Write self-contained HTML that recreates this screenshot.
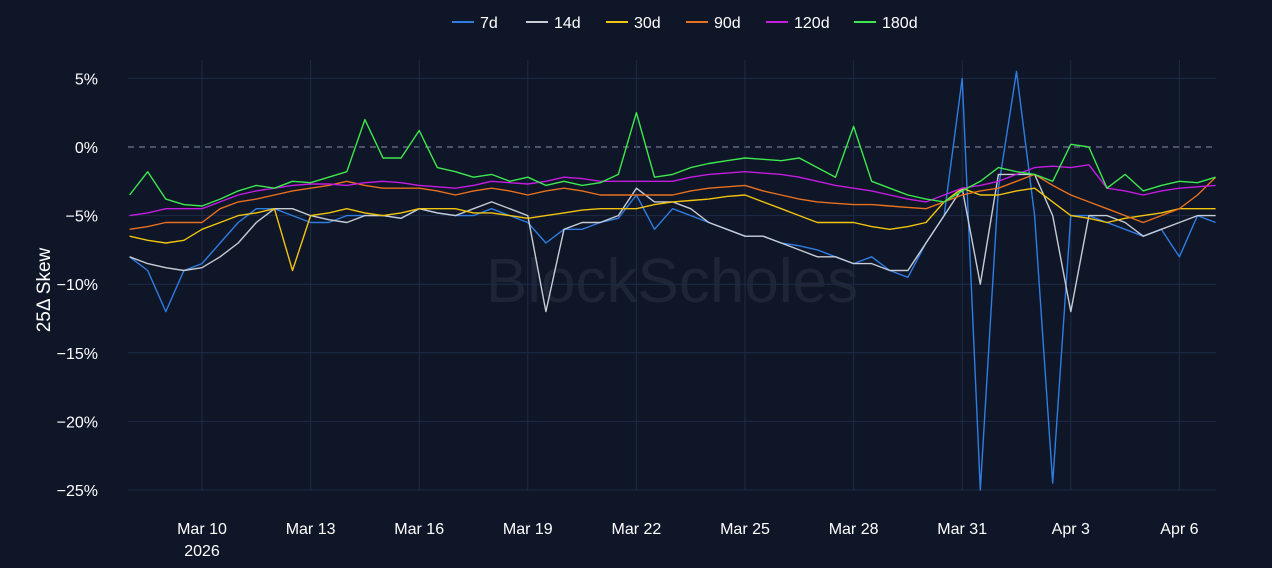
<!DOCTYPE html>
<html><head><meta charset="utf-8"><style>
html,body{margin:0;padding:0;background:#0e1628;}
svg{display:block;font-family:"Liberation Sans",sans-serif;}
</style></head><body>
<svg id="chart" width="1272" height="568" viewBox="0 0 1272 568">
<rect x="0" y="0" width="1272" height="568" fill="#0e1628"/>
<text x="672" y="302" text-anchor="middle" font-size="62" fill="#1d2537">BlockScholes</text>
<g id="grid"></g><g id="series"></g><g id="axes"></g><g id="legend"></g>
<text transform="translate(50,290) rotate(-90)" text-anchor="middle" font-size="19" fill="#ffffff">25Δ Skew</text>
</svg>
<script>
const seriesNames = ["7d","14d","30d","90d","120d","180d"];
const seriesColors = ["#2f7de1","#c8ccd4","#f2c40f","#e8701f","#c41ce0","#3ee84e"];
const yTicks = [5,0,-5,-10,-15,-20,-25];
const xTickDays = [2,5,8,11,14,17,20,23,26,29];
const xTickLabels = ["Mar 10","Mar 13","Mar 16","Mar 19","Mar 22","Mar 25","Mar 28","Mar 31","Apr 3","Apr 6"];
// days since Mar 8, step 0.5
const days = [0,0.5,1,1.5,2,2.5,3,3.5,4,4.5,5,5.5,6,6.5,7,7.5,8,8.5,9,9.5,10,10.5,11,11.5,12,12.5,13,13.5,14,14.5,15,15.5,16,16.5,17,17.5,18,18.5,19,19.5,20,20.5,21,21.5,22,22.5,23,23.5,24,24.5,25,25.5,26,26.5,27,27.5,28,28.5,29,29.5,30];
const s7d  = [-8,-9,-12,-9,-8.5,-7,-5.5,-4.5,-4.5,-5,-5.5,-5.5,-5,-5,-5,-5.2,-4.5,-4.8,-5,-5,-4.5,-5,-5.5,-7,-6,-6,-5.5,-5.2,-3.5,-6,-4.5,-5,-5.5,-6,-6.5,-6.5,-7,-7.2,-7.5,-8,-8.5,-8,-9,-9.5,-7,-5,5,-25,-3,5.5,-5,-24.5,-5,-5,-5.5,-6,-6.5,-6,-8,-5,-5.5];
const s14d = [-8,-8.5,-8.8,-9,-8.8,-8,-7,-5.5,-4.5,-4.5,-5,-5.3,-5.5,-5,-5,-5.2,-4.5,-4.8,-5,-4.5,-4,-4.5,-5,-12,-6,-5.5,-5.5,-5,-3,-4,-4,-4.5,-5.5,-6,-6.5,-6.5,-7,-7.5,-8,-8,-8.5,-8.5,-9,-9,-7,-5,-3,-10,-2,-2,-2,-5,-12,-5,-5,-5.5,-6.5,-6,-5.5,-5,-5];
const s30d = [-6.5,-6.8,-7,-6.8,-6,-5.5,-5,-4.8,-4.5,-9,-5,-4.8,-4.5,-4.8,-5,-4.8,-4.5,-4.5,-4.5,-4.8,-4.8,-5,-5.2,-5,-4.8,-4.6,-4.5,-4.5,-4.5,-4.2,-4,-3.9,-3.8,-3.6,-3.5,-4,-4.5,-5,-5.5,-5.5,-5.5,-5.8,-6,-5.8,-5.5,-4,-3,-3.5,-3.5,-3.2,-3,-4,-5,-5.2,-5.5,-5.2,-5,-4.8,-4.5,-4.5,-4.5];
const s90d = [-6,-5.8,-5.5,-5.5,-5.5,-4.5,-4,-3.8,-3.5,-3.2,-3,-2.8,-2.5,-2.8,-3,-3,-3,-3.2,-3.5,-3.2,-3,-3.2,-3.5,-3.2,-3,-3.2,-3.5,-3.5,-3.5,-3.5,-3.5,-3.2,-3,-2.9,-2.8,-3.2,-3.5,-3.8,-4,-4.1,-4.2,-4.2,-4.3,-4.4,-4.5,-4,-3.5,-3.2,-3,-2.5,-2,-2.8,-3.5,-4,-4.5,-5,-5.5,-5,-4.5,-3.5,-2.2];
const s120d= [-5,-4.8,-4.5,-4.5,-4.5,-4,-3.5,-3.2,-3,-2.8,-2.7,-2.7,-2.8,-2.6,-2.5,-2.6,-2.8,-2.9,-3,-2.8,-2.5,-2.6,-2.7,-2.5,-2.2,-2.3,-2.5,-2.5,-2.5,-2.5,-2.5,-2.2,-2,-1.9,-1.8,-1.9,-2,-2.2,-2.5,-2.8,-3,-3.2,-3.5,-3.8,-4,-3.5,-3,-2.8,-2.5,-2,-1.5,-1.4,-1.5,-1.3,-3,-3.2,-3.5,-3.2,-3,-2.9,-2.8];
const s180d= [-3.5,-1.8,-3.8,-4.2,-4.3,-3.8,-3.2,-2.8,-3,-2.5,-2.6,-2.2,-1.8,2,-0.8,-0.8,1.2,-1.5,-1.8,-2.2,-2,-2.5,-2.2,-2.8,-2.5,-2.8,-2.6,-2,2.5,-2.2,-2,-1.5,-1.2,-1,-0.8,-0.9,-1,-0.8,-1.5,-2.2,1.5,-2.5,-3,-3.5,-3.8,-4,-3.2,-2.5,-1.5,-1.8,-2,-2.5,0.2,0,-3,-2,-3.2,-2.8,-2.5,-2.6,-2.2];
const seriesValues = [s7d,s14d,s30d,s90d,s120d,s180d];

const NS="http://www.w3.org/2000/svg";
const plotL=128, plotR=1216;
function xScale(d){return 202+(d-2)*36.2;}
function yScale(v){return 147-v*13.72;}
function mk(tag,attrs,parent){const e=document.createElementNS(NS,tag);for(const k in attrs)e.setAttribute(k,attrs[k]);parent.appendChild(e);return e;}
const grid=document.getElementById('grid'),axes=document.getElementById('axes'),ser=document.getElementById('series'),leg=document.getElementById('legend');
yTicks.forEach(t=>{
  const y=yScale(t);
  const l=mk('line',{x1:plotL,x2:plotR,y1:y,y2:y,stroke:t===0?'#6f7a8e':'#1f2b45','stroke-width':t===0?1.2:1,'stroke-dasharray':t===0?'6,5':'none'},grid);
  
  
  const tx=mk('text',{x:98,y:y+6,'text-anchor':'end','font-size':16,fill:'#ffffff'},axes);
  tx.textContent=(t<0?'\u2212'+Math.abs(t):t)+'%';
  
  
});
xTickDays.forEach((d,i)=>{
  const x=xScale(d);
  const l=mk('line',{x1:x,x2:x,y1:60,y2:490,stroke:'#1f2b45','stroke-width':1},grid);
  
  
  const tx=mk('text',{x:x,y:534,'text-anchor':'middle','font-size':16,fill:'#ffffff'},axes);
  tx.textContent=xTickLabels[i];
  
  
});
const yr=mk('text',{x:xScale(2),y:556,'text-anchor':'middle','font-size':16,fill:'#ffffff'},axes);
yr.textContent='2026';


seriesValues.forEach((vals,si)=>{
  const pts=vals.map((v,i)=>xScale(days[i]).toFixed(1)+','+yScale(v).toFixed(1)).join(' ');
  const p=mk('polyline',{points:pts,fill:'none',stroke:seriesColors[si],'stroke-width':1.4,'stroke-linejoin':'round'},ser);
  
  
});
let lx=452;
const legW=[52,58,58,58,66,66];
seriesNames.forEach((n,i)=>{
  const g=mk('g',{},leg);
  
  
  mk('line',{x1:lx,x2:lx+22,y1:22,y2:22,stroke:seriesColors[i],'stroke-width':2},g);
  const t=mk('text',{x:lx+28,y:28,'font-size':16,fill:'#ffffff'},g);
  t.textContent=n;
  lx+=legW[i]+22;
});
</script>
</body></html>
